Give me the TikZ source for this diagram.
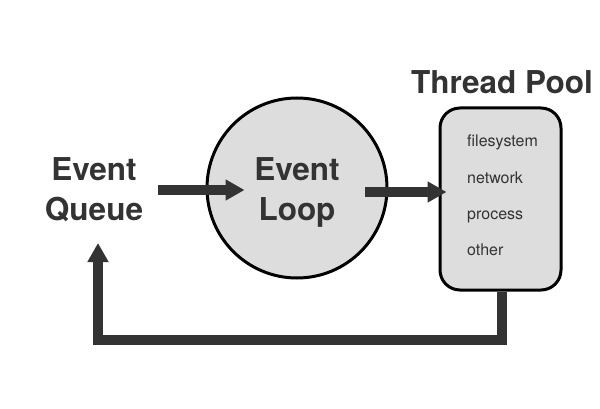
\documentclass[tikz,border=0pt]{standalone}
\usepackage{fontspec}
\setmainfont{TeX Gyre Heros}
\usetikzlibrary{arrows.meta}
\definecolor{ink}{HTML}{333333}
\definecolor{pane}{HTML}{DDDDDD}
\begin{document}
\begin{tikzpicture}[x=1pt,y=-1pt,
    >={Triangle[length=19pt,width=20pt]},
    big/.style={text=ink,font=\bfseries\fontsize{31.5}{40}\selectfont,align=center},
    small/.style={text=ink,font=\fontsize{16}{18}\selectfont,anchor=base west,inner sep=0pt},
    fat/.style={->,draw=ink,line width=10pt}]
    % Define convenient lengths for the pool box (adjust as desired)
    \def\pw{121}
    \def\ph{182}

    \useasboundingbox (0,0) rectangle (600,409);

    % 1) Queue text and the loop circle
    \node[big] (queue) at (94,190) {Event\\Queue};
    \node[big,circle,draw=black,line width=3pt,fill=pane,minimum size=180pt,inner sep=0pt]
      (loop) at (297,188) {\rule{0pt}{31pt}Event\\Loop};

    % 2) Thread pool box with its title
    \node[draw=black,line width=3pt,fill=pane,rounded corners=20pt,
      minimum width=\pw pt,minimum height=\ph pt] (pool) at (500.5,199) {};
    \node[big] (title) at (502,82) {Thread Pool};

    % 3) Work kinds inside the pool
    \node[small] (fs)  at (467,147) {filesystem};
    \node[small] (net) at (467,183) {network};
    \node[small] (proc) at (467,219) {process};
    \node[small] (oth) at (467,255) {other};

    % 4) Arrows between the parts
    \coordinate (a) at (158,190);
    \coordinate (b) at (365,192);
    \coordinate (back) at (98,243);
    \draw[fat] (a) -- ([xshift=39pt]loop.west |- a);
    \draw[fat] (b) -- ([xshift=8pt]pool.west |- b);
    \draw[fat] ([xshift=1.5pt]pool.south) -- ++(0,48) -| (back);
\end{tikzpicture}
\end{document}
